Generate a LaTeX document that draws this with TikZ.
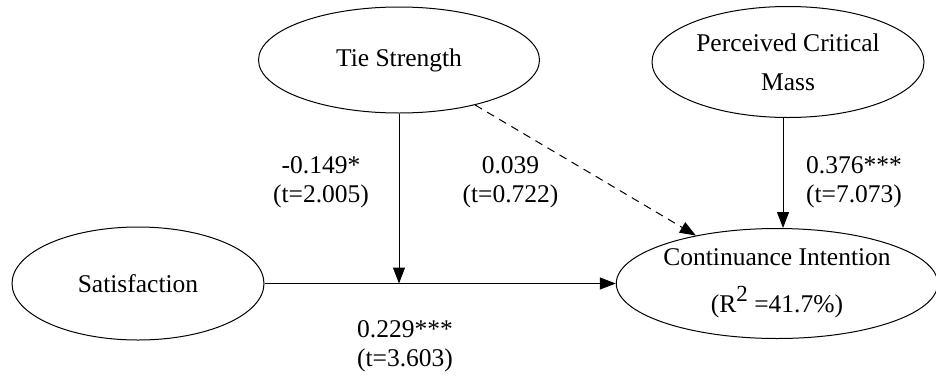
\documentclass[tikz,border=0pt]{standalone}
\usepackage{fontspec}
\setmainfont{Liberation Serif}
\usetikzlibrary{shapes.geometric,arrows.meta}
\begin{document}
\begin{tikzpicture}[x=1pt,y=-1pt,
  every node/.style={font=\fontsize{25.5}{29}\selectfont},
  latent/.style={ellipse,draw,line width=1pt,inner sep=0pt,align=center},
  lbl/.style={align=center,inner sep=0pt},
  arr/.style={line width=1pt,-{Triangle[length=16pt,width=12pt]}},
  dasharr/.style={arr,dash pattern=on 8pt off 6pt},
]
\useasboundingbox (0,0) rectangle (936,375);
\node[latent,minimum width=281pt,minimum height=106pt] (ts) at (399,60) {Tie Strength};
\node[latent,minimum width=272pt,minimum height=111pt,font=\fontsize{25.5}{39}\selectfont] (pcm) at (788,62) {Perceived Critical\\Mass};
\node[latent,minimum width=252pt,minimum height=113pt] (sat) at (138,283.5) {Satisfaction};
\node[latent,minimum width=317pt,minimum height=110pt,font=\fontsize{25.5}{47}\selectfont] (ci) at (777,283.5) {Continuance Intention\\(R\raisebox{11pt}{\fontsize{23}{23}\selectfont 2} =41.7\%)};
\coordinate (m) at (399,283.5);
\coordinate (px) at (783,0);
\draw[arr] (sat.east) -- (ci.west);
\draw[arr] (ts.south) -- (m);
\draw[dasharr] (ts) -- (ci);
\draw[arr] (px |- pcm.south) -- (px |- ci.north);
\node[lbl] (l1) at (321,182) {-0.149*\\(t=2.005)};
\node[lbl] (l2) at (510.5,182) {0.039\\(t=0.722)};
\node[lbl] (l3) at (854,182) {0.376***\\(t=7.073)};
\node[lbl] (l4) at (405,346) {0.229***\\(t=3.603)};
\end{tikzpicture}
\end{document}
